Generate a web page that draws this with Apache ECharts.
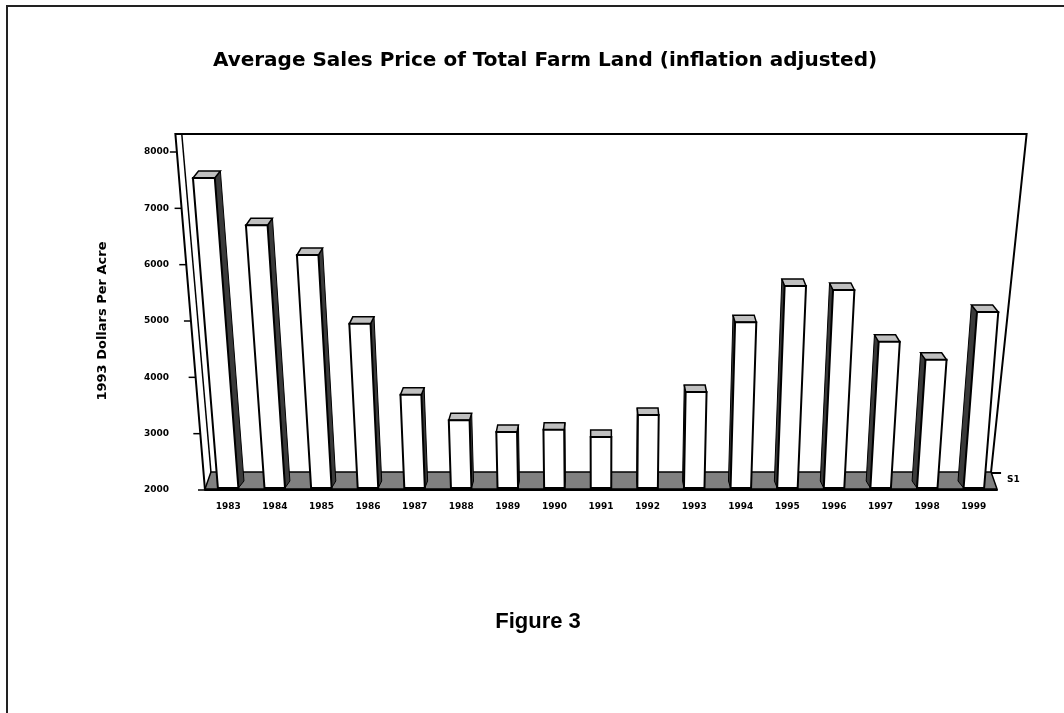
<!DOCTYPE html>
<html>
<head>
<meta charset="utf-8">
<title>Average Sales Price of Total Farm Land</title>
<script src="https://cdn.jsdelivr.net/npm/echarts@6.0.0/dist/echarts.min.js"></script>
<style>
  html, body { margin: 0; padding: 0; background: #fff; }
  #chart { width: 1064px; height: 713px; }
</style>
</head>
<body>
<div id="chart"></div>
<script>
// Excel-style 3D column chart, redrawn with a perspective lean on custom series.

const YEARS = ["1983", "1984", "1985", "1986", "1987", "1988", "1989", "1990", "1991",
  "1992", "1993", "1994", "1995", "1996", "1997", "1998", "1999"];
const PRICES = [7540, 6700, 6170, 4950, 3690, 3240, 3030, 3070, 2940,
  3330, 3740, 4980, 5620, 5550, 4630, 4310, 5160];
const Y_MIN = 2000;
const Y_MAX = 8000;
const Y_STEP = 1000;
const TITLE = "Average Sales Price of Total Farm Land (inflation adjusted)";
const Y_NAME = "1993 Dollars Per Acre";
const SERIES_NAME = "S1";
const CAPTION = "Figure 3";

const LEAN = 2.1e-4;     // how far columns lean away from the centre per px of height
const DEPTH_X = 0.015;   // receding shift toward the centre
const BAR_DEPTH = 7;
const FLOOR_DEPTH = 18;
const WALL_RISE = 18;

function leaner(vx, yb) {
  return (x, y) => [x + (x - vx) * LEAN * (yb - y), y];
}

function renderScene(params, api) {
  const cs = params.coordSys;
  const yb = api.coord([0, Y_MIN])[1];
  const vx = cs.x + cs.width / 2;
  const sk = leaner(vx, yb);
  const x0 = cs.x;
  const x1 = cs.x + cs.width;
  const yBack = yb - FLOOR_DEPTH;
  const yTop = cs.y - WALL_RISE;
  const dl = (vx - x0) * DEPTH_X;
  const dr = (vx - x1) * DEPTH_X;
  const backL = [x0 + dl, yBack];
  const backR = [x1 + dr, yBack];
  const topL = sk(x0, yTop);
  const topR = sk(x1, yTop);
  const line = { stroke: "#000", lineWidth: 2, fill: null };
  const children = [
    { type: "polyline", shape: { points: [backL, sk(x0 + dl, yTop)] }, style: { stroke: "#000", lineWidth: 1.5, fill: null } },
    { type: "polyline", shape: { points: [[x0, yb], topL, topR, backR] }, style: line },
    {
      type: "polygon",
      shape: { points: [[x0, yb - 1], [x1, yb - 1], backR, backL] },
      style: { fill: "#808080", stroke: "#000", lineWidth: 1.5 },
    },
    { type: "line", shape: { x1: backR[0], y1: backR[1] + 1, x2: backR[0] + 10, y2: backR[1] + 1 }, style: line },
    {
      type: "text",
      style: {
        text: SERIES_NAME, x: backR[0] + 16, y: backR[1] + 8,
        font: "bold 9px 'DejaVu Sans'", fill: "#000",
        align: "left", verticalAlign: "middle",
      },
    },
  ];
  for (let v = Y_MIN; v <= Y_MAX; v += Y_STEP) {
    const y = api.coord([0, v])[1];
    const p = sk(x0, y);
    children.push({
      type: "line",
      shape: { x1: p[0] - 7, y1: y, x2: p[0], y2: y },
      style: { stroke: "#000", lineWidth: 1.5 },
    });
  }
  return { type: "group", children };
}

function renderBar(params, api) {
  const cs = params.coordSys;
  const i = api.value(0);
  const [cx, yb] = api.coord([i, Y_MIN]);
  const yt = api.coord([i, api.value(1)])[1];
  const hw = api.size([1, 0])[0] * 0.22;
  const vx = cs.x + cs.width / 2;
  const sk = leaner(vx, yb);
  const yf = yb - 2;
  const fl = sk(cx - hw, yf);
  const fr = sk(cx + hw, yf);
  const tr = sk(cx + hw, yt);
  const tl = sk(cx - hw, yt);
  const dx = (vx - cx) * DEPTH_X;
  const back = (p) => [p[0] + dx, p[1] - BAR_DEPTH];
  const side = dx >= 0 ? [fr, tr] : [fl, tl];
  return {
    type: "group",
    children: [
      {
        type: "polygon",
        shape: { points: [side[0], side[1], back(side[1]), back(side[0])] },
        style: { fill: "#3a3a3a", stroke: "#000", lineWidth: 1 },
      },
      {
        type: "polygon",
        shape: { points: [tl, tr, back(tr), back(tl)] },
        style: { fill: "#c0c0c0", stroke: "#000", lineWidth: 1.5 },
      },
      {
        type: "polygon",
        shape: { points: [fl, fr, tr, tl] },
        style: { fill: "#fff", stroke: "#000", lineWidth: 2 },
      },
    ],
  };
}

const chart = echarts.init(document.getElementById("chart"), null, { renderer: "canvas" });

chart.setOption({
  animation: false,
  backgroundColor: "#fff",
  textStyle: { fontFamily: "'DejaVu Sans', sans-serif" },
  grid: { left: 205, right: 67, top: 152, bottom: 223 },
  xAxis: {
    type: "category",
    data: YEARS,
    axisLine: { lineStyle: { color: "#000", width: 2 } },
    axisTick: { length: 6, lineStyle: { color: "#000", width: 1.5 } },
    axisLabel: { color: "#000", fontSize: 9, fontWeight: "bold", margin: 12 },
    splitLine: { show: false },
  },
  yAxis: {
    type: "value",
    min: Y_MIN,
    max: Y_MAX,
    interval: Y_STEP,
    name: Y_NAME,
    nameLocation: "middle",
    nameRotate: 90,
    nameGap: 96,
    nameTextStyle: { color: "#000", fontSize: 13, fontWeight: "bold" },
    axisLine: { show: false },
    axisTick: { show: false },
    splitLine: { show: false },
    axisLabel: {
      color: "#000", fontSize: 9, fontWeight: "bold", margin: 36,
      formatter: (v) => String(v),
    },
  },
  graphic: [
    {
      type: "rect",
      shape: { x: 7, y: 6, width: 1100, height: 760 },
      style: { fill: null, stroke: "#222", lineWidth: 2 },
      silent: true,
    },
    {
      type: "text",
      x: 545, y: 61,
      style: {
        text: TITLE, font: "bold 20px 'DejaVu Sans'", fill: "#000",
        align: "center", verticalAlign: "middle",
      },
    },
    {
      type: "text",
      x: 538, y: 622,
      style: {
        text: CAPTION, font: "bold 22px 'Liberation Sans'", fill: "#000",
        align: "center", verticalAlign: "middle",
      },
    },
  ],
  series: [
    {
      type: "custom",
      z: 1,
      silent: true,
      renderItem: renderScene,
      data: [[0, Y_MIN]],
      encode: { x: 0, y: 1 },
    },
    {
      type: "custom",
      name: SERIES_NAME,
      z: 2,
      renderItem: renderBar,
      data: PRICES.map((v, i) => [i, v]),
      encode: { x: 0, y: 1 },
    },
  ],
});
</script>
</body>
</html>
